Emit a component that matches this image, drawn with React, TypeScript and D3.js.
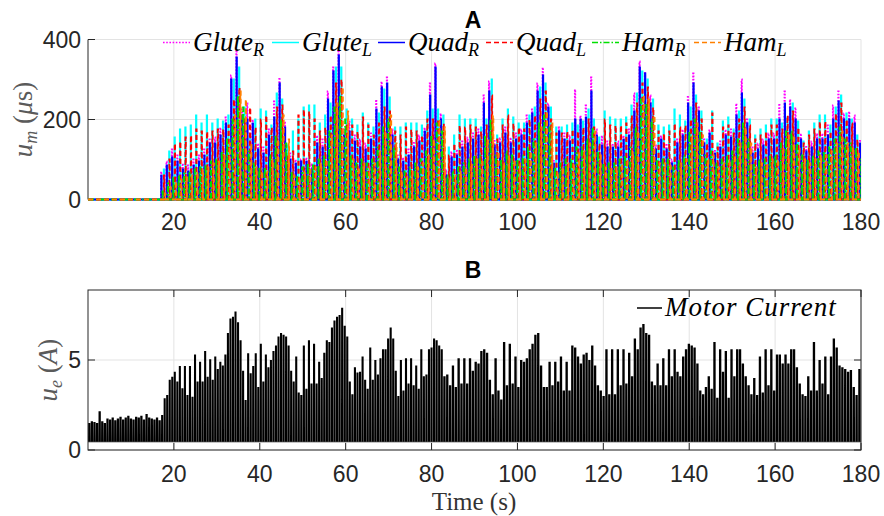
import React from "react";
import * as d3 from "d3";

// ---------- axis ticks ----------
const timeTicks = [20, 40, 60, 80, 100, 120, 140, 160, 180];
const stimTicks = [0, 200, 400];
const currentTicks = [0, 5];

// ---------- panel A: stimulation pulse peaks (µs), one value per crank revolution ----------
const gluteR = [
  70, 95, 125, 110, 90, 85, 100, 110, 125, 150,
  155, 180, 205, 310, 370, 225, 240, 200, 140, 130,
  175, 245, 305, 195, 115, 100, 100, 105, 90, 160,
  150, 270, 330, 370, 175, 195, 160, 150, 140, 165,
  250, 295, 305, 175, 110, 105, 125, 145, 160, 180,
  290, 340, 215, 75, 120, 125, 145, 155, 165, 175,
  260, 295, 150, 155, 180, 155, 165, 175, 210, 225,
  290, 330, 240, 100, 180, 165, 160, 275, 210, 235,
  305, 175, 160, 145, 140, 145, 160, 175, 265, 345,
  320, 260, 135, 160, 140, 100, 150, 175, 260, 315,
  230, 150, 175, 125, 145, 175, 175, 240, 300, 200,
  130, 140, 150, 165, 165, 240, 270, 250, 230, 165,
  135, 145, 165, 165, 185, 235, 270, 215, 220, 210,
  150,
];
const gluteL = [
  75, 120, 155, 175, 180, 185, 210, 190, 210, 190,
  200, 195, 210, 300, 330, 230, 155, 200, 225, 220,
  185, 265, 250, 135, 170, 200, 230, 235, 235, 190,
  210, 240, 330, 330, 225, 200, 185, 215, 190, 180,
  215, 275, 255, 180, 180, 190, 190, 190, 185, 220,
  225, 225, 210, 130, 160, 210, 200, 200, 200, 180,
  200, 300, 160, 200, 225, 205, 190, 190, 210, 230,
  280, 290, 230, 180, 180, 185, 190, 185, 195, 225,
  200, 155, 220, 205, 200, 200, 205, 235, 265, 320,
  300, 250, 185, 180, 185, 225, 210, 195, 230, 260,
  220, 150, 220, 140, 195, 205, 175, 220, 250, 200,
  160, 175, 185, 200, 200, 190, 205, 240, 195, 145,
  170, 190, 210, 210, 185, 230, 260, 215, 200, 160,
  140,
];
const quadR = [
  60, 85, 105, 95, 75, 70, 85, 95, 110, 140,
  140, 160, 190, 300, 355, 210, 200, 190, 125, 115,
  160, 205, 290, 180, 100, 90, 95, 95, 75, 140,
  130, 250, 320, 360, 160, 170, 145, 130, 125, 150,
  225, 280, 290, 160, 100, 95, 110, 130, 145, 170,
  260, 330, 200, 60, 105, 110, 130, 140, 150, 160,
  240, 270, 135, 140, 165, 140, 150, 160, 190, 215,
  270, 310, 230, 90, 170, 150, 145, 200, 200, 205,
  270, 160, 135, 130, 130, 130, 150, 160, 220, 330,
  315, 240, 125, 150, 125, 90, 140, 160, 240, 290,
  220, 140, 165, 115, 130, 160, 155, 210, 265, 190,
  115, 125, 135, 150, 150, 200, 240, 230, 200, 150,
  120, 130, 150, 150, 160, 200, 245, 200, 200, 190,
  140,
];
const quadL = [
  60, 100, 140, 145, 155, 160, 175, 170, 170, 170,
  175, 175, 185, 250, 280, 200, 230, 180, 200, 210,
  180, 230, 235, 110, 120, 210, 225, 220, 200, 170,
  180, 210, 290, 300, 190, 185, 170, 205, 185, 160,
  190, 230, 220, 170, 160, 180, 175, 170, 160, 200,
  200, 200, 190, 110, 140, 185, 180, 185, 180, 170,
  185, 260, 150, 185, 210, 190, 180, 175, 200, 210,
  250, 270, 200, 165, 165, 170, 175, 170, 180, 200,
  180, 140, 200, 185, 185, 185, 190, 210, 240, 290,
  280, 230, 170, 165, 170, 190, 180, 185, 200, 240,
  200, 140, 215, 130, 180, 185, 165, 200, 230, 185,
  150, 160, 170, 185, 185, 175, 210, 220, 180, 140,
  160, 175, 195, 195, 170, 215, 240, 200, 190, 150,
  130,
];
const hamR = [
  20, 40, 55, 60, 65, 70, 75, 80, 85, 95,
  100, 120, 150, 200, 260, 230, 120, 90, 80, 80,
  110, 160, 200, 140, 70, 60, 80, 90, 85, 100,
  110, 170, 230, 260, 200, 110, 90, 100, 90, 100,
  130, 180, 200, 130, 80, 70, 80, 90, 100, 120,
  160, 190, 170, 60, 70, 80, 90, 100, 110, 110,
  160, 200, 110, 100, 120, 110, 100, 110, 130, 150,
  190, 210, 180, 80, 90, 100, 100, 130, 130, 150,
  180, 120, 90, 90, 90, 100, 110, 130, 180, 250,
  240, 200, 100, 100, 100, 80, 100, 110, 170, 200,
  170, 110, 120, 90, 100, 110, 120, 150, 190, 150,
  90, 100, 100, 110, 110, 140, 170, 170, 140, 110,
  100, 110, 120, 120, 130, 150, 180, 150, 140, 130,
  100,
];
const hamL = [
  15, 30, 45, 50, 55, 60, 70, 75, 80, 90,
  95, 110, 140, 210, 270, 250, 140, 80, 70, 70,
  100, 150, 210, 150, 60, 55, 70, 80, 80, 90,
  100, 160, 240, 280, 220, 100, 80, 90, 80, 90,
  120, 170, 210, 140, 70, 60, 70, 80, 90, 110,
  150, 200, 180, 55, 60, 70, 80, 90, 100, 100,
  150, 210, 120, 90, 110, 100, 90, 100, 120, 140,
  180, 220, 190, 70, 80, 90, 90, 120, 120, 140,
  170, 110, 80, 80, 80, 90, 100, 120, 170, 260,
  250, 210, 90, 90, 90, 70, 90, 100, 160, 190,
  160, 100, 110, 80, 90, 100, 110, 140, 180, 140,
  80, 90, 90, 100, 100, 130, 160, 160, 130, 100,
  90, 100, 110, 110, 120, 140, 170, 140, 130, 120,
  90,
];
const firstRevolution = 17;
const lastRevolution = 179.7;

// ---------- panel B: motor current pulse peaks (A) ----------
const currentBaseline = 0.45;
const currentIdle0to17 = [
  1.5, 1.6, 1.55, 1.5, 2.15, 1.6, 1.5, 1.75, 1.7, 1.8, 1.65, 1.75, 1.85, 1.7,
  1.8, 1.9, 1.75, 1.7, 1.85, 1.8, 1.9, 1.7, 2.0, 1.8, 1.75, 1.7, 1.8, 1.65,
];
const current17to49 = [
  1.94, 2.87, 3.05, 3.9, 4.07, 4.35, 3.8, 4.67, 3.43, 4.67, 3.05, 4.67, 2.96, 5.3,
  3.8, 4.9, 3.8, 5.5, 4.07, 5.04, 3.9, 5.2, 4.5, 4.9, 4.7, 5.3, 6.5, 7.3, 7.4, 7.7,
  7.1, 6.1, 4.4, 2.78, 5.37, 4.26, 4.67, 5.37, 3.5, 5.9, 3.8, 5.3, 4.6, 5.0, 5.5,
  5.8, 6.3, 6.5, 6.4, 6.3, 5.8, 4.4, 3.8, 5.2, 3.2,
];
const current49to83 = [
  3.05, 5.8, 3.4, 6.1, 3.7, 5.9, 3.7, 4.9, 4.0, 5.4, 6.1, 6.0, 6.8, 7.2, 7.4, 7.5,
  7.9, 6.9, 6.3, 3.8, 3.1, 4.6, 4.3, 4.35, 5.2, 3.9, 3.4, 5.7, 3.9, 5.0, 4.2, 5.1,
  5.6, 5.6, 6.2, 6.8, 6.2, 4.4, 3.0, 5.0, 3.3, 5.1, 3.7, 5.1, 3.6, 4.7, 3.4, 5.6,
  4.1, 4.2, 5.6, 5.7, 6.2, 6.1, 5.8, 5.6,
];
const current83to180 = [
  4.1, 4.2, 3.6, 4.7, 3.5, 5.1, 3.7, 5.1, 3.7, 5.1,
  4.4, 4.9, 4.8, 5.5, 5.6, 5.4, 3.9, 3.1, 5.1, 3.3,
  2.8, 6.0, 3.6, 5.9, 3.7, 5.2, 3.5, 5.0, 4.9, 5.1,
  5.6, 5.9, 6.4, 6.5, 4.7, 3.5, 3.5, 4.9, 3.6, 4.9,
  3.8, 5.2, 3.3, 4.9, 3.3, 5.8, 5.7, 5.2, 4.8, 5.3,
  5.4, 5.0, 5.8, 4.7, 3.6, 3.3, 3.0, 5.6, 3.1, 5.6,
  3.1, 5.6, 3.6, 5.6, 3.7, 5.4, 4.1, 6.2, 5.6, 6.8,
  7.0, 6.5, 6.4, 3.8, 3.6, 4.8, 3.6, 5.1, 3.6, 5.6,
  4.1, 5.6, 4.35, 4.1, 5.2, 5.6, 5.9, 5.8, 5.7, 4.8,
  3.3, 3.1, 3.5, 4.1, 3.4, 6.0, 2.9, 5.6, 4.35, 5.5,
  2.9, 5.6, 4.1, 5.6, 5.6, 4.8, 4.1, 3.6, 3.1, 4.0,
  3.05, 5.2, 3.2, 5.6, 3.6, 5.6, 3.3, 5.3, 5.3, 4.8,
  5.3, 4.8, 5.6, 5.6, 4.6, 3.7, 3.1, 3.0, 4.1, 3.3,
  6.0, 3.3, 5.0, 3.7, 5.2, 3.1, 5.2, 6.2, 5.7, 4.7,
  4.6, 4.5, 4.35, 4.45, 3.5, 3.05, 4.5,
];
const currentSegments = [
  { from: 0, to: 17, peaks: currentIdle0to17, duty: 0.95 },
  { from: 17, to: 49.4, peaks: current17to49, duty: 0.9 },
  { from: 49.4, to: 82.7, peaks: current49to83, duty: 0.9 },
  { from: 82.7, to: 180, peaks: current83to180, duty: 0.9 },
];

// ---------- series styling ----------
const muscleSeries = [
  { name: "Glute", side: "R", values: gluteR, phase: 0, color: "#FF00FF", dash: "1.6,1.6" },
  { name: "Glute", side: "L", values: gluteL, phase: 0.63, color: "#00FFFF", dash: null },
  { name: "Quad", side: "R", values: quadR, phase: 0.05, color: "#0000FF", dash: null },
  { name: "Quad", side: "L", values: quadL, phase: 0.68, color: "#FF0000", dash: "5,3" },
  { name: "Ham", side: "R", values: hamR, phase: 0.32, color: "#00E000", dash: "6,2,1.5,2" },
  { name: "Ham", side: "L", values: hamL, phase: 0.95, color: "#FF8000", dash: "5,3" },
];
const legendStarts = [163, 272, 378, 486, 592, 694];

const PL = 88, PR = 861;
const A_TOP = 39.5, A_BOT = 199.5;
const B_TOP = 290, B_BOT = 450;
const AX = "#262626";
const GRID = "#e3e3e3";
const SANS = "'Liberation Sans', Arial, Helvetica, sans-serif";
const SERIF = "'Liberation Serif', 'Times New Roman', serif";

export default function App() {
  const x = d3.scaleLinear().domain([0, 180]).range([PL, PR]);
  const yA = d3.scaleLinear().domain([0, 400]).range([A_BOT, A_TOP]);
  const yB = d3.scaleLinear().domain([0, 8.89]).range([B_BOT, B_TOP]);

  const lineA = d3
    .line<[number, number]>()
    .x((d) => x(d[0]))
    .y((d) => yA(d[1]));

  const revStep = (lastRevolution - firstRevolution) / (quadR.length - 1);
  const pulseWidth = 0.1;
  const musclePaths = muscleSeries.map((s) => {
    const pts: [number, number][] = [[0, 0]];
    s.values.forEach((v, j) => {
      const t = firstRevolution + j * revStep + s.phase;
      pts.push([t, 0], [t, v], [t + pulseWidth, v], [t + pulseWidth, 0]);
    });
    pts.push([182, 0]);
    return lineA(pts);
  });

  const areaB = d3
    .area<[number, number]>()
    .x((d) => x(d[0]))
    .y0(yB(currentBaseline))
    .y1((d) => yB(d[1]));
  const currentPts: [number, number][] = [];
  currentSegments.forEach((seg) => {
    const step = (seg.to - seg.from) / seg.peaks.length;
    seg.peaks.forEach((v, k) => {
      const t = seg.from + k * step;
      currentPts.push(
        [t, currentBaseline],
        [t + 0.04 * step, v],
        [t + (seg.duty - 0.04) * step, v],
        [t + seg.duty * step, currentBaseline]
      );
    });
  });
  const currentArea = areaB(currentPts);

  const tickLen = 7;

  return (
    <svg width={884} height={516} style={{ display: "block", position: "absolute", left: 0, top: 0 }}>
      <defs>
        <clipPath id="clipA">
          <rect x={PL} y={A_TOP - 20} width={PR - PL} height={A_BOT - A_TOP + 22} />
        </clipPath>
        <clipPath id="clipB">
          <rect x={PL} y={B_TOP} width={PR - PL} height={B_BOT - B_TOP} />
        </clipPath>
      </defs>
      <rect x={0} y={0} width={884} height={516} fill="#fff" />

      {/* ===== Panel A ===== */}
      <g>
        {timeTicks.map((t) => (
          <line key={"gax" + t} x1={x(t)} x2={x(t)} y1={A_TOP} y2={A_BOT} stroke={GRID} strokeWidth={1} />
        ))}
        {stimTicks.map((v) => (
          <line key={"gay" + v} x1={PL} x2={PR} y1={yA(v)} y2={yA(v)} stroke={GRID} strokeWidth={1} />
        ))}
        <line x1={PL} x2={PR} y1={A_BOT} y2={A_BOT} stroke={AX} strokeWidth={1} />
        <line x1={PL} x2={PL} y1={A_TOP} y2={A_BOT} stroke={AX} strokeWidth={1} />
        {stimTicks.map((v) => (
          <line key={"tay" + v} x1={PL} x2={PL + tickLen} y1={yA(v)} y2={yA(v)} stroke={AX} strokeWidth={1} />
        ))}
        <g clipPath="url(#clipA)">
          {muscleSeries.map((s, i) => (
            <path
              key={"m" + i}
              d={musclePaths[i] || ""}
              fill="none"
              stroke={s.color}
              strokeWidth={1.8}
              strokeDasharray={s.dash || undefined}
            />
          ))}
        </g>
        {timeTicks.map((t) => (
          <text key={"lax" + t} x={x(t)} y={230} textAnchor="middle" fontFamily={SANS} fontSize={23} fill={AX}>
            {t}
          </text>
        ))}
        {stimTicks.map((v) => (
          <text key={"lay" + v} x={81} y={yA(v) + 8} textAnchor="end" fontFamily={SANS} fontSize={23} fill={AX}>
            {v}
          </text>
        ))}
        <text x={473} y={28} textAnchor="middle" fontFamily={SANS} fontSize={23} fontWeight="bold" fill="#000">
          A
        </text>
        <text
          transform={`translate(32,${(A_TOP + A_BOT) / 2}) rotate(-90)`}
          textAnchor="middle"
          fontFamily={SERIF}
          fontSize={27}
          fill="#5a5a5a"
        >
          <tspan fontStyle="italic">u</tspan>
          <tspan fontStyle="italic" fontSize={18} dy={5}>m</tspan>
          <tspan dy={-5}>{"\u00A0("}</tspan>
          <tspan fontStyle="italic">μ</tspan>
          <tspan>{"s)"}</tspan>
        </text>
        {muscleSeries.map((s, i) => (
          <g key={"lg" + i}>
            <line
              x1={legendStarts[i]}
              x2={legendStarts[i] + 27}
              y1={42.5}
              y2={42.5}
              stroke={s.color}
              strokeWidth={1.5}
              strokeDasharray={s.dash || undefined}
            />
            <text x={legendStarts[i] + 30} y={51} fontFamily={SERIF} fontStyle="italic" fontSize={27} fill="#000">
              <tspan>{s.name}</tspan>
              <tspan fontSize={18} dy={5}>{s.side}</tspan>
            </text>
          </g>
        ))}
      </g>

      {/* ===== Panel B ===== */}
      <g>
        {timeTicks.map((t) => (
          <line key={"gbx" + t} x1={x(t)} x2={x(t)} y1={B_TOP} y2={B_BOT} stroke={GRID} strokeWidth={1} />
        ))}
        {currentTicks.map((v) => (
          <line key={"gby" + v} x1={PL} x2={PR} y1={yB(v)} y2={yB(v)} stroke={GRID} strokeWidth={1} />
        ))}
        <g clipPath="url(#clipB)">
          <path d={currentArea || ""} fill="#000" stroke="none" />
          <line
            x1={x(0)}
            x2={x(180)}
            y1={yB(currentBaseline)}
            y2={yB(currentBaseline)}
            stroke="#444"
            strokeWidth={0.8}
          />
        </g>
        <rect x={PL} y={B_TOP} width={PR - PL} height={B_BOT - B_TOP} fill="none" stroke={AX} strokeWidth={1} />
        {timeTicks.map((t) => (
          <g key={"tbx" + t}>
            <line x1={x(t)} x2={x(t)} y1={B_BOT} y2={B_BOT - tickLen} stroke={AX} strokeWidth={1} />
            <line x1={x(t)} x2={x(t)} y1={B_TOP} y2={B_TOP + tickLen} stroke={AX} strokeWidth={1} />
          </g>
        ))}
        {currentTicks.map((v) => (
          <g key={"tby" + v}>
            <line x1={PL} x2={PL + tickLen} y1={yB(v)} y2={yB(v)} stroke={AX} strokeWidth={1} />
            <line x1={PR} x2={PR - tickLen} y1={yB(v)} y2={yB(v)} stroke={AX} strokeWidth={1} />
          </g>
        ))}
        {timeTicks.map((t) => (
          <text key={"lbx" + t} x={x(t)} y={482} textAnchor="middle" fontFamily={SANS} fontSize={23} fill={AX}>
            {t}
          </text>
        ))}
        {currentTicks.map((v) => (
          <text key={"lby" + v} x={81} y={yB(v) + 8} textAnchor="end" fontFamily={SANS} fontSize={23} fill={AX}>
            {v}
          </text>
        ))}
        <text x={473} y={278} textAnchor="middle" fontFamily={SANS} fontSize={23} fontWeight="bold" fill="#000">
          B
        </text>
        <text
          transform={`translate(57,${(B_TOP + B_BOT) / 2}) rotate(-90)`}
          textAnchor="middle"
          fontFamily={SERIF}
          fontSize={27}
          fill="#5a5a5a"
        >
          <tspan fontStyle="italic">u</tspan>
          <tspan fontStyle="italic" fontSize={18} dy={5}>e</tspan>
          <tspan dy={-5}>{"\u00A0("}</tspan>
          <tspan fontStyle="italic">A</tspan>
          <tspan>{")"}</tspan>
        </text>
        <line x1={637} x2={662} y1={308} y2={308} stroke="#000" strokeWidth={1.5} />
        <text x={665} y={316} fontFamily={SERIF} fontStyle="italic" fontSize={27} letterSpacing={1} fill="#000">
          Motor Current
        </text>
        <text x={474} y={510} textAnchor="middle" fontFamily={SERIF} fontSize={25} fill="#333">
          Time (s)
        </text>
      </g>
    </svg>
  );
}
